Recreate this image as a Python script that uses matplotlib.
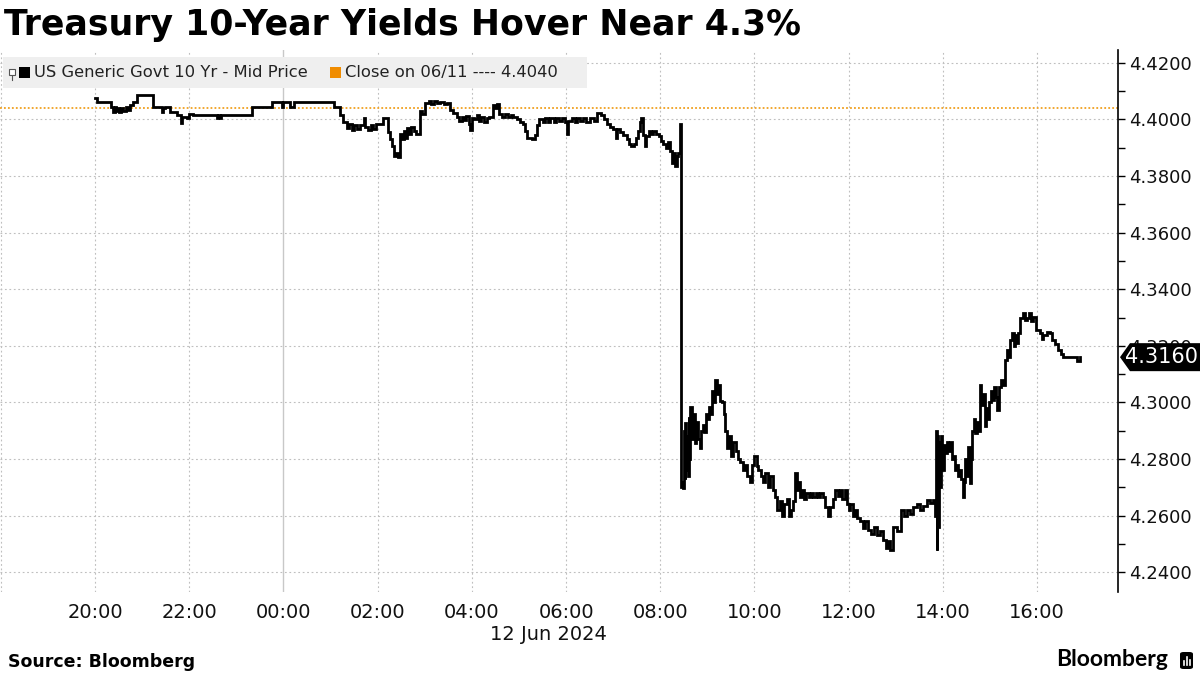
import numpy as np
import pandas as pd
import matplotlib
matplotlib.use("Agg")
import matplotlib.pyplot as plt
import matplotlib.dates as mdates
from matplotlib.patches import Rectangle, Polygon, FancyBboxPatch
from matplotlib.transforms import IdentityTransform
import matplotlib.ticker as mticker

# ---------------- data ----------------
title = "Treasury 10-Year Yields Hover Near 4.3%"
series_name = "US Generic Govt 10 Yr - Mid Price"
close_label = "Close on 06/11 ---- 4.4040"
close_value = 4.4040
start_time = "2024-06-11 20:00"

# minutes after start_time
minutes = [
    0, 2, 21, 23, 25, 27, 29, 31, 33, 36, 39, 42, 45, 49, 53, 74, 85, 87, 89, 96,
    104, 109, 111, 117, 120, 125, 155, 157, 159, 161, 200, 225, 238, 240, 248, 253,
    304, 312, 316, 321, 324, 327, 330, 334, 338, 342, 344, 348, 351, 354, 358, 363,
    367, 373, 376, 378, 381, 384, 386, 389, 391, 393, 395, 397, 400, 403, 406, 409,
    414, 417, 420, 425, 428, 432, 436, 440, 444, 448, 452, 456, 461, 464, 467, 470,
    473, 476, 478, 480, 483, 486, 489, 492, 496, 499, 502, 507, 510, 512, 514, 518,
    522, 526, 530, 533, 537, 541, 545, 548, 550, 556, 560, 563, 566, 570, 573, 577,
    580, 584, 587, 591, 595, 599, 601, 603, 607, 611, 614, 618, 622, 626, 630, 635,
    639, 644, 648, 652, 656, 660, 663, 665, 669, 673, 677, 680, 683, 686, 689, 692,
    694, 696, 698, 700, 702, 705, 708, 711, 715, 718, 721, 724, 727, 730, 733, 735,
    737, 739, 741, 743, 745, 747, 748, 749, 750, 751, 752, 753, 754, 755, 756, 757,
    758, 760, 762, 764, 766, 768, 770, 772, 774, 776, 778, 780, 782, 784, 786, 788,
    790, 792, 794, 796, 799, 801, 803, 805, 807, 810, 813, 816, 819, 822, 825, 828,
    831, 834, 837, 840, 843, 845, 848, 851, 854, 857, 860, 863, 866, 869, 872, 875,
    878, 881, 884, 887, 889, 892, 894, 896, 898, 900, 903, 906, 909, 912, 915, 918,
    921, 924, 927, 930, 933, 936, 940, 943, 946, 949, 952, 955, 958, 960, 962, 965,
    968, 971, 975, 978, 981, 984, 988, 992, 996, 1000, 1004, 1007, 1010, 1013, 1017,
    1021, 1026, 1030, 1034, 1038, 1042, 1047, 1051, 1055, 1060, 1064, 1068, 1070,
    1071, 1072, 1073, 1074, 1075, 1076, 1077, 1079, 1081, 1083, 1085, 1087, 1089,
    1091, 1093, 1095, 1097, 1099, 1101, 1103, 1105, 1107, 1108, 1110, 1112, 1114,
    1116, 1117, 1119, 1121, 1123, 1125, 1127, 1129, 1131, 1133, 1135, 1137, 1139,
    1141, 1143, 1145, 1147, 1149, 1152, 1154, 1156, 1159, 1161, 1163, 1166, 1168,
    1170, 1172, 1174, 1176, 1178, 1182, 1184, 1187, 1190, 1192, 1195, 1198, 1204,
    1206, 1208, 1212, 1217, 1219, 1223, 1226, 1231, 1233, 1251, 1254, 1255,
]

yields = [
    4.4076, 4.4063, 4.4045, 4.4028, 4.4045, 4.4030, 4.4042, 4.4028, 4.4040, 4.4030,
    4.4045, 4.4032, 4.4050, 4.4063, 4.4087, 4.4045, 4.4028, 4.4040, 4.4045, 4.4028,
    4.4016, 4.3987, 4.4010, 4.4004, 4.4020, 4.4016, 4.4004, 4.4016, 4.4004, 4.4016,
    4.4045, 4.4063, 4.4045, 4.4063, 4.4045, 4.4063,
    4.4045, 4.4016, 4.3990, 4.3970, 4.3985, 4.3963, 4.3981, 4.3965, 4.3981, 4.4004,
    4.3975, 4.3963, 4.3981, 4.3968, 4.3985, 4.3985,
    4.4004, 4.3955, 4.3930, 4.3905, 4.3870, 4.3880, 4.3869, 4.3950, 4.3930, 4.3960,
    4.3935, 4.3970, 4.3950, 4.3975, 4.3960, 4.3950,
    4.4030, 4.4020, 4.4059, 4.4065, 4.4055, 4.4065, 4.4058, 4.4062, 4.4055, 4.4060,
    4.4035, 4.4022, 4.4010, 4.3995, 4.4010, 4.3998,
    4.4012, 4.3985, 4.3963, 4.4005, 4.4000, 4.4015, 4.3995, 4.4008, 4.3990, 4.4005,
    4.4010, 4.4050, 4.4040, 4.4055, 4.4020, 4.4010,
    4.4020, 4.4008, 4.4015, 4.4010, 4.4000, 4.3992, 4.3985, 4.3960, 4.3935, 4.3930,
    4.3945, 4.3981, 4.4000, 4.3990, 4.4004, 4.3990,
    4.4004, 4.3992, 4.4004, 4.3995, 4.4004, 4.3992, 4.3950, 4.3995, 4.4004, 4.3992,
    4.4004, 4.3995, 4.4004, 4.3990, 4.4004, 4.3995,
    4.4022, 4.4015, 4.4000, 4.3985, 4.3975, 4.3965, 4.3935, 4.3965, 4.3955, 4.3945,
    4.3930, 4.3915, 4.3905, 4.3915, 4.3935, 4.3960,
    4.3990, 4.4005, 4.3945, 4.3905, 4.3940, 4.3960, 4.3950, 4.3960, 4.3950, 4.3940,
    4.3925, 4.3915, 4.3900, 4.3920, 4.3890, 4.3845,
    4.3880, 4.3835, 4.3870, 4.3880, 4.3985, 4.2700, 4.2720, 4.2697, 4.2900, 4.2730,
    4.2926, 4.2760, 4.2880, 4.2740, 4.2950, 4.2800,
    4.2985, 4.2870, 4.2960, 4.2856, 4.2930, 4.2870, 4.2840, 4.2900, 4.2920, 4.2895,
    4.2960, 4.2940, 4.2985, 4.2960, 4.3040, 4.3000,
    4.3080, 4.3030, 4.3060, 4.3006, 4.3000, 4.2960, 4.2900, 4.2840, 4.2880, 4.2810,
    4.2860, 4.2830, 4.2800, 4.2790, 4.2760, 4.2780,
    4.2740, 4.2720, 4.2780, 4.2810, 4.2775, 4.2760, 4.2740, 4.2720, 4.2750, 4.2700,
    4.2740, 4.2690, 4.2667, 4.2620, 4.2650, 4.2600,
    4.2640, 4.2660, 4.2600, 4.2620, 4.2650, 4.2750, 4.2690, 4.2720, 4.2667, 4.2690,
    4.2660, 4.2680, 4.2667, 4.2680, 4.2667, 4.2680,
    4.2667, 4.2680, 4.2667, 4.2630, 4.2600, 4.2630, 4.2660, 4.2690, 4.2670, 4.2690,
    4.2660, 4.2690, 4.2640, 4.2620, 4.2640, 4.2600,
    4.2620, 4.2590, 4.2580, 4.2555, 4.2580, 4.2548, 4.2535, 4.2560, 4.2530, 4.2545,
    4.2515, 4.2485, 4.2510, 4.2480, 4.2560,
    4.2545, 4.2620, 4.2600, 4.2620, 4.2605, 4.2630, 4.2640, 4.2620, 4.2635, 4.2655,
    4.2645, 4.2655, 4.2600,
    4.2900, 4.2480, 4.2880, 4.2560, 4.2860, 4.2700, 4.2880, 4.2760, 4.2850, 4.2820,
    4.2860, 4.2830, 4.2860,
    4.2800, 4.2810, 4.2760, 4.2780, 4.2740, 4.2760, 4.2730, 4.2667, 4.2720, 4.2800,
    4.2740, 4.2843, 4.2714,
    4.2800, 4.2900, 4.2940, 4.2893, 4.2930, 4.2900, 4.3060, 4.2990, 4.3030, 4.2915,
    4.2980, 4.2940, 4.3000,
    4.3040, 4.3010, 4.3055, 4.3020, 4.2975, 4.3055, 4.3080, 4.3060, 4.3150, 4.3185,
    4.3160, 4.3220, 4.3245,
    4.3200, 4.3240, 4.3210, 4.3245, 4.3300, 4.3317, 4.3290, 4.3300, 4.3317, 4.3288,
    4.3302, 4.3256, 4.3245,
    4.3225, 4.3240, 4.3250, 4.3245, 4.3220, 4.3205, 4.3186, 4.3170, 4.3160, 4.3148,
    4.3160, 4.3160,
]

y_ticks = [4.24, 4.26, 4.28, 4.30, 4.32, 4.34, 4.36, 4.38, 4.40, 4.42]
x_tick_hours = ["20:00", "22:00", "00:00", "02:00", "04:00", "06:00",
                "08:00", "10:00", "12:00", "14:00", "16:00"]
date_label = "12 Jun 2024"
source_text = "Source: Bloomberg"

# ---------------- figure ----------------
plt.rcParams['font.family'] = ['DejaVu Sans']
W, H = 1200, 675
fig = plt.figure(figsize=(12, 6.75), dpi=100)
fig.patch.set_facecolor('white')

ax_left, ax_right, ax_top, ax_bot = 0, 1118, 50, 592
ax = fig.add_axes([ax_left / W, 1 - ax_bot / H, (ax_right - ax_left) / W, (ax_bot - ax_top) / H])
ax.set_facecolor('white')

t0 = pd.Timestamp(start_time)
times = t0 + pd.to_timedelta(minutes, unit='min')

# x limits (from 17:59 to 17:43 next day)
ax.set_xlim(t0 - pd.Timedelta(minutes=121), t0 + pd.Timedelta(minutes=1303))
ax.set_ylim(4.2330, 4.42456)

# grid
grid_col = '#bfbfbf'
grid_ls = (0, (1.6, 2.4))
for yt in y_ticks:
    ax.axhline(yt, color=grid_col, lw=0.8, ls=grid_ls, zorder=1)
day_start = pd.Timestamp("2024-06-12 00:00")
for h in range(-2, 22, 2):
    tt = t0 + pd.Timedelta(hours=h)
    if tt == day_start:
        ax.axvline(tt, color='#c8c8c8', lw=1.0, ls='-', zorder=1)
    else:
        ax.axvline(tt, color=grid_col, lw=0.8, ls=grid_ls, zorder=1)

# close line
ax.axhline(close_value, color='#f0a020', lw=1.3, ls=(0, (1, 1.2)), zorder=2)

# main series
ax.plot(times, yields, color='black', lw=2.0, drawstyle='steps-post', zorder=3,
        solid_joinstyle='miter')

# x ticks
xt = [pd.Timestamp(("2024-06-11 " if int(s[:2]) >= 20 else "2024-06-12 ") + s) for s in x_tick_hours]
ax.set_xticks(xt)
ax.set_xticklabels(x_tick_hours)
ax.tick_params(axis='x', length=0, pad=8, labelsize=14, labelcolor='#111111')

# y ticks on the right
ax.yaxis.tick_right()
ax.set_yticks(y_ticks)
ax.yaxis.set_major_formatter(mticker.FuncFormatter(lambda v, p: f"{v:.4f}"))
ax.yaxis.set_minor_locator(mticker.MultipleLocator(0.01))
ax.tick_params(axis='y', which='major', length=5, width=1.0, pad=3, labelsize=13,
               labelcolor='#111111', color='black', direction='out')
ax.tick_params(axis='y', which='minor', length=5, width=1.0, color='black', direction='out')

for s in ['left', 'top', 'bottom']:
    ax.spines[s].set_visible(False)
ax.spines['right'].set_color('black')
ax.spines['right'].set_linewidth(1.2)

# date label
fig.text(548 / W, 1 - 634 / H, date_label, ha='center', va='center', fontsize=14, color='#111111')

# title
fig.text(4 / W, 1 - 25 / H, title, ha='left', va='center', fontsize=25, fontweight='bold',
         color='black')

# legend box
fig.patches.append(Rectangle((3 / W, 1 - 88 / H), (587 - 3) / W, (88 - 57) / H,
                             transform=fig.transFigure, facecolor='#efefef', edgecolor='none', zorder=5))
# small chart icon
fig.patches.append(Rectangle((9 / W, 1 - 75 / H), 6 / W, 6 / H, transform=fig.transFigure,
                             facecolor='white', edgecolor='#555555', lw=0.8, zorder=6))
fig.lines.append(plt.Line2D([12 / W, 12 / W], [1 - 75 / H, 1 - 80 / H], transform=fig.transFigure,
                            color='#555555', lw=0.8, zorder=6))
fig.patches.append(Rectangle((19 / W, 1 - 78 / H), 11 / W, 11 / H, transform=fig.transFigure,
                             facecolor='black', edgecolor='none', zorder=6))
fig.text(34 / W, 1 - 72.5 / H, series_name, ha='left', va='center', fontsize=11.8,
         color='#222222', zorder=7)
fig.patches.append(Rectangle((330 / W, 1 - 78 / H), 11 / W, 11 / H, transform=fig.transFigure,
                             facecolor='#f08c00', edgecolor='none', zorder=6))
fig.text(345 / W, 1 - 72.5 / H, close_label, ha='left', va='center', fontsize=11.8,
         color='#222222', zorder=7)

# last value tag
fig.canvas.draw()
last_val = yields[-1]
ydisp = ax.transData.transform((mdates.date2num(times[-1]), last_val))[1]
ypx = H - ydisp
x0 = 1120
poly = Polygon([[x0, H - ypx], [x0 + 10, H - (ypx - 14)], [1200, H - (ypx - 14)],
                [1200, H - (ypx + 14)], [x0 + 10, H - (ypx + 14)]],
               closed=True, transform=IdentityTransform(), facecolor='black', edgecolor='none',
               zorder=10)
fig.patches.append(poly)
fig.text(1162 / W, 1 - ypx / H, f"{last_val:.4f}", ha='center', va='center', fontsize=15,
         color='white', zorder=11)

# footer
fig.text(8 / W, 1 - 662 / H, source_text, ha='left', va='center', fontsize=12.5,
         fontweight='bold', color='black')
fig.text(1168 / W, 1 - 660 / H, "Bloomberg", ha='right', va='center', fontsize=16.5,
         fontweight='bold', color='black', family=['Lato', 'DejaVu Sans'])
fig.patches.append(FancyBboxPatch((1180 / W, 1 - 669 / H), 13 / W, 17 / H,
                                  boxstyle="round,pad=0,rounding_size=0.003",
                                  transform=fig.transFigure, facecolor='black', edgecolor='none'))
for i, hh in enumerate([4, 8, 5]):
    fig.lines.append(plt.Line2D([(1183.5 + 3 * i) / W] * 2, [1 - 665 / H, 1 - (665 - hh) / H],
                                transform=fig.transFigure, color='white', lw=1.2))

fig.savefig("out.png", dpi=100, facecolor='white')
